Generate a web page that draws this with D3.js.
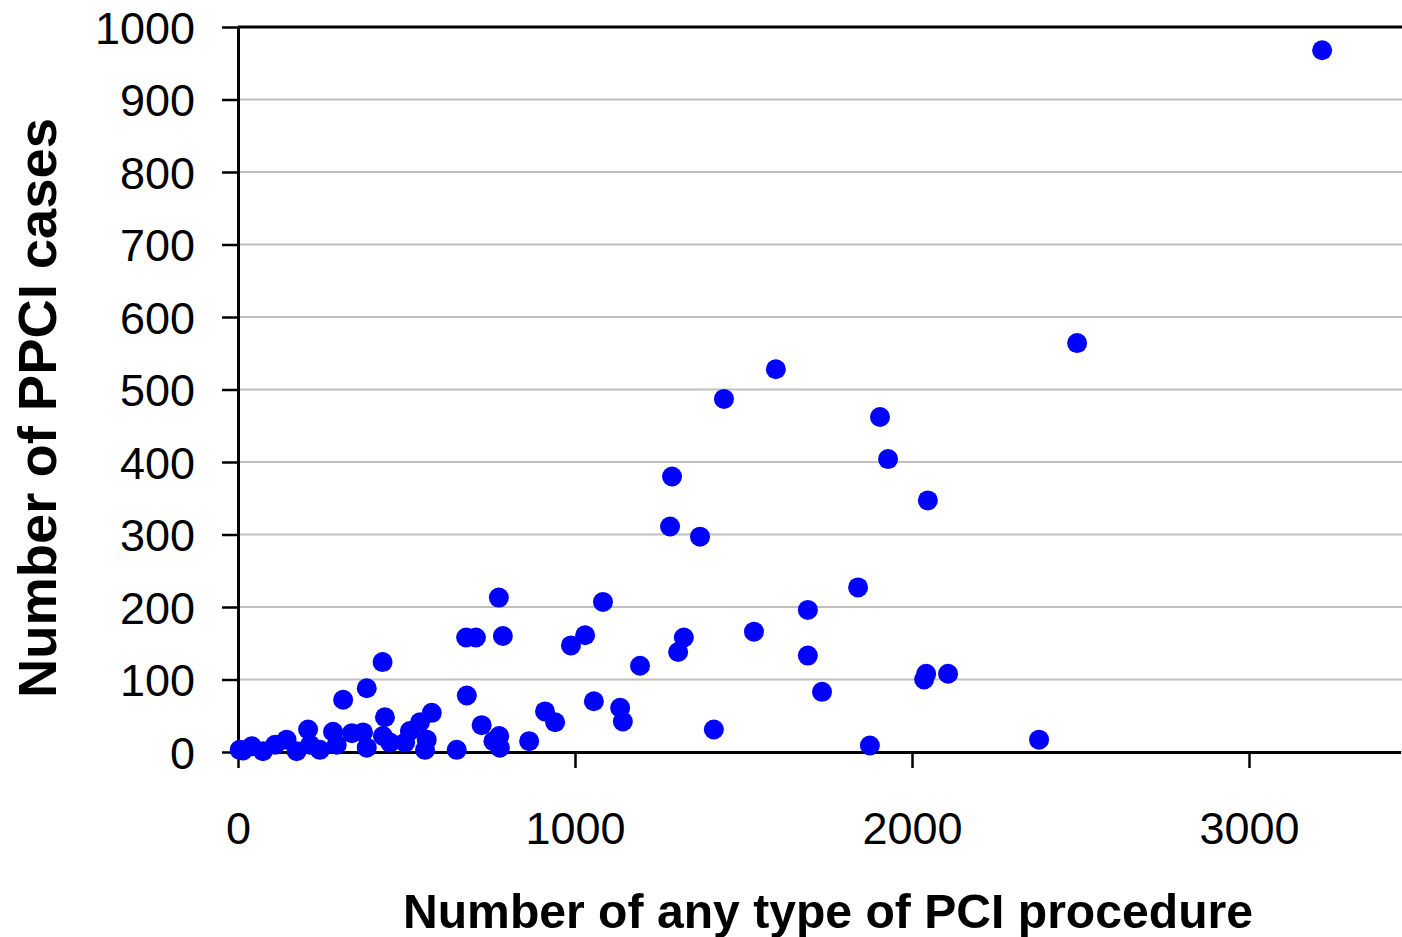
<!DOCTYPE html>
<html>
<head>
<meta charset="utf-8">
<script src="https://cdn.jsdelivr.net/npm/d3@7"></script>
<style>
  body { margin: 0; background: #ffffff; }
</style>
</head>
<body>
<div id="chart"></div>
<script>
// data: PCI procedures (x) vs PPCI cases (y)
const pciCount = [
  5, 15, 41, 74, 110, 144, 174, 208, 214, 243,
  282, 293, 312, 338, 371, 382, 382, 429, 430, 436,
  451, 496, 510, 540, 560, 555, 575, 649, 679, 723,
  758, 775, 777, 864, 911, 941,
  677, 706, 774, 786, 988, 1030, 1056, 1083, 1134, 1142,
  1193, 1282, 1288, 1306, 1323, 1371, 1412, 1442, 1531, 1596,
  1691, 1691, 1733, 1840, 1875, 1905, 1929, 2036, 2042, 2047,
  2107, 2377, 2490, 3217
];
const ppciCount = [
  3, 2, 8, 1, 10, 17, 1, 31, 10, 3,
  28, 10, 72, 26, 27, 6, 88, 124, 22, 48,
  13, 13, 29, 41, 17, 3, 54, 3, 78, 37,
  15, 22, 6, 15, 56, 41,
  158, 158, 213, 160, 147, 161, 70, 207, 61, 42,
  119, 311, 380, 138, 158, 297, 31, 487, 166, 528,
  196, 133, 83, 227, 9, 462, 404, 100, 108, 347,
  108, 17, 564, 968
];
const xTicks = [0, 1000, 2000, 3000];
const yTicks = [0, 100, 200, 300, 400, 500, 600, 700, 800, 900, 1000];

const points = pciCount.map((d, i) => ({ x: d, y: ppciCount[i] }));

const width = 1402;
const height = 937;
const margin = { top: 27, right: 0, bottom: 185, left: 238 };

const svg = d3.select("#chart")
  .append("svg")
  .attr("width", width)
  .attr("height", height)
  .style("background", "#ffffff");

// scales
const x = d3.scaleLinear()
  .domain([0, 3450])
  .range([margin.left, margin.left + 3450 * 0.337]);

const y = d3.scaleLinear()
  .domain([0, 1000])
  .range([height - margin.bottom, margin.top]);

const font = "Arial, 'Liberation Sans', sans-serif";

// horizontal grid lines
svg.append("g")
  .selectAll("line")
  .data(yTicks.filter(t => t > 0 && t < 1000))
  .join("line")
  .attr("x1", margin.left)
  .attr("x2", width)
  .attr("y1", d => y(d))
  .attr("y2", d => y(d))
  .attr("stroke", "#c0c0c0")
  .attr("stroke-width", 2);

// top border of plot area
svg.append("line")
  .attr("x1", margin.left)
  .attr("x2", width)
  .attr("y1", y(1000))
  .attr("y2", y(1000))
  .attr("stroke", "#000")
  .attr("stroke-width", 3);

// Y axis
const yAxis = svg.append("g")
  .attr("transform", `translate(${margin.left}, 0)`)
  .call(d3.axisLeft(y).tickValues(yTicks).tickFormat(d3.format("d"))
    .tickSize(16).tickSizeOuter(0).tickPadding(27));
yAxis.select(".domain").attr("stroke-width", 3);
yAxis.selectAll(".tick line").attr("stroke-width", 2.5);
yAxis.selectAll("text")
  .style("font-family", font)
  .style("font-size", "45px")
  .attr("fill", "#000")
  .attr("dy", "0.36em");

// X axis
const xAxis = svg.append("g")
  .attr("transform", `translate(0, ${y(0)})`)
  .call(d3.axisBottom(x).tickValues(xTicks).tickFormat(d3.format("d"))
    .tickSize(16).tickSizeOuter(0).tickPadding(44));
xAxis.select(".domain").attr("stroke-width", 3);
xAxis.selectAll(".tick line").attr("stroke-width", 2.5);
xAxis.selectAll("text")
  .style("font-family", font)
  .style("font-size", "45px")
  .attr("fill", "#000");

// points
svg.append("g")
  .selectAll("circle")
  .data(points)
  .join("circle")
  .attr("cx", d => x(d.x))
  .attr("cy", d => y(d.y))
  .attr("r", 10)
  .attr("fill", "#0000ff");

// X axis label
svg.append("text")
  .attr("x", 828)
  .attr("y", 928)
  .attr("text-anchor", "middle")
  .attr("textLength", 850)
  .attr("lengthAdjust", "spacingAndGlyphs")
  .style("font-family", font)
  .style("font-size", "48px")
  .style("font-weight", "bold")
  .text("Number of any type of PCI procedure");

// Y axis label
svg.append("text")
  .attr("transform", "rotate(-90)")
  .attr("x", -408)
  .attr("y", 56)
  .attr("text-anchor", "middle")
  .attr("textLength", 580)
  .attr("lengthAdjust", "spacingAndGlyphs")
  .style("font-family", font)
  .style("font-size", "53px")
  .style("font-weight", "bold")
  .text("Number of PPCI cases");
</script>
</body>
</html>
